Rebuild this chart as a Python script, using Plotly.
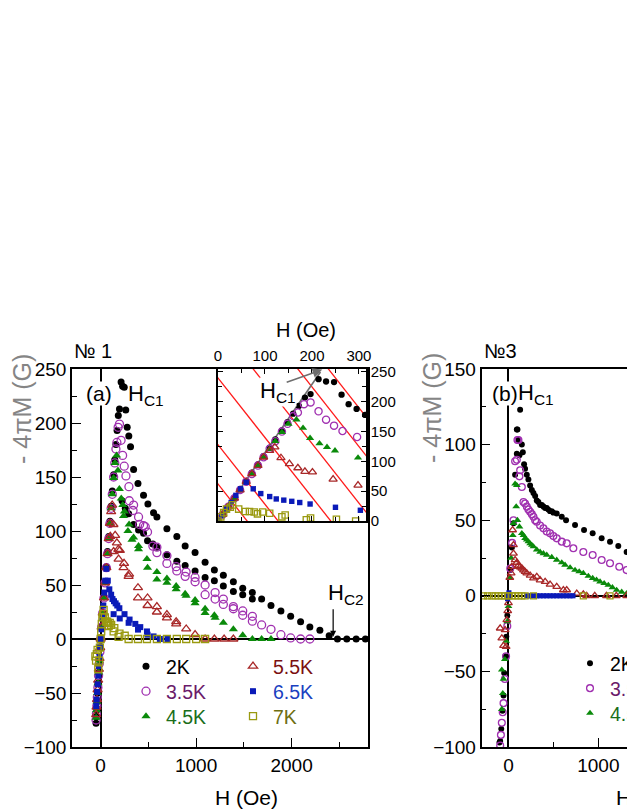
import plotly.graph_objects as go

W, H = 627, 811

# ---------------- panel (a): sample No 1, main curves ----------------
h_a_2k = [-48, -45, -42, -38, -33, -27, -20, -12, -5, 0,
          10, 22, 35, 47, 60, 72, 85, 97, 110, 122, 136, 148, 160, 172, 185, 197, 214,
          230, 247, 263, 278, 295, 313, 345, 391, 449, 495, 554, 589, 694, 798, 885, 989,
          1094, 1191, 1285, 1390, 1488, 1589, 1686, 1784, 1888, 1990, 2094, 2191, 2296, 2393,
          2480, 2578, 2676, 2773]
m_a_2k = [-78, -72, -66, -58, -50, -41, -31, -19, -8, 0,
          11, 25, 39, 53, 67, 81, 95, 109, 123, 137, 152, 166, 180, 193, 207, 213, 238,
          234, 233, 212, 196, 188, 178, 157, 144, 133, 125, 117, 113, 102, 95, 86, 80,
          71, 64, 59, 53, 47, 43, 37, 31, 26, 21, 16, 11, 8, 3,
          0, 0, 0, 0]
h_a_2k_ret = [224, 258, 293, 345, 397, 449, 491, 547, 589, 694, 798, 885, 989, 1094, 1191, 1285,
              1390, 1488, 1589]
m_a_2k_ret = [128, 121, 116, 106, 101, 98, 91, 88, 85, 78, 72, 68, 63, 57, 54, 49, 44, 41, 37]

h_a_35k = [-48, -44, -40, -35, -29, -22, -15, -8, 0,
           10, 22, 35, 47, 60, 72, 85, 97, 110, 122, 136, 148, 160, 170, 183, 197,
           214, 230, 247, 265, 296, 345, 397, 449, 491, 589, 694, 791, 895, 989, 1094, 1199,
           1285, 1390, 1488, 1589, 1686, 1784, 1888, 1990, 2094, 2191]
m_a_35k = [-75, -69, -62, -54, -45, -34, -23, -12, 0,
           11, 24, 38, 52, 66, 79, 93, 107, 121, 134, 150, 163, 176, 182, 196, 199,
           184, 170, 160, 151, 141, 124, 113, 105, 99, 85, 77, 67, 62, 57, 50, 43,
           37, 30, 26, 21, 13, 9, 4, 1, 0, 0]
h_a_35k_ret = [300, 339, 408, 467, 547, 589, 694, 798, 885, 989, 1094, 1199, 1285, 1390, 1488, 1589]
m_a_35k_ret = [128, 119, 106, 104, 86, 80, 70, 63, 58, 53, 41, 37, 32, 28, 22, 16.5]

h_a_45k = [-47, -43, -38, -33, -27, -20, -13, -6, 0,
           10, 22, 35, 47, 60, 72, 85, 97, 110, 122, 136, 150, 167,
           181, 196, 216, 232, 249, 298, 345, 397, 485, 589, 694, 791, 885, 989, 1094, 1191,
           1285, 1390, 1488, 1589, 1686, 1784]
m_a_45k = [-73, -66, -58, -50, -41, -31, -20, -9, 0,
           11, 24, 38, 52, 66, 79, 93, 107, 121, 134, 149, 163, 170,
           156, 139, 130, 124, 118, 106, 94, 86, 74, 62, 56, 49, 42, 36, 28, 22,
           15, 9, 3.5, 0, 0, 0]
h_a_45k_ret = [240, 286, 328, 397, 491, 589, 694, 791, 895, 989, 1094, 1199]
m_a_45k_ret = [114, 100, 92, 83, 66, 55, 52, 46, 40, 33, 24, 19.6]

h_a_55k = [-47, -43, -38, -32, -26, -19, -12, -5, 0,
           10, 22, 35, 47, 60, 72, 85, 97, 110, 121,
           134, 152, 170, 185, 201, 245, 298, 391, 491, 589, 694, 791, 896, 989, 1094, 1191,
           1293, 1390]
m_a_55k = [-70, -63, -56, -47, -38, -28, -18, -8, 0,
           11, 24, 38, 52, 66, 79, 93, 107, 118, 124,
           106, 96, 89, 83, 82, 70, 60, 47.5, 38, 30, 22.6, 16, 9.3, 4, 0, 0,
           0, 0]
h_a_55k_ret = [101, 136, 188, 240, 293, 391, 491, 589, 694, 791]
m_a_55k_ret = [95, 81, 74, 66, 58, 38, 31, 25, 19.6, 14]

h_a_65k = [-46, -42, -37, -31, -25, -18, -11, -5, 0,
           8, 18, 28, 38, 48, 60,
           75, 91, 110, 124, 140, 157, 174, 196, 250, 303, 363, 415, 485, 554, 620, 700]
m_a_65k = [-62, -56, -49, -42, -34, -25, -16, -7, 0,
           9, 20, 31, 43, 54, 65,
           54, 46, 41, 37, 35, 33, 31, 28.5, 23, 18, 14, 11, 7, 2.4, 0, 0]
h_a_65k_ret = [136, 200, 293, 391, 491]
m_a_65k_ret = [23, 19, 15, 8.7, 4]

h_a_7k = [-55, -48, -40, -32, -25, -15, -8, 0,
          6, 12, 18, 26, 31,
          44, 58, 67, 77, 84, 95, 110, 136, 143, 188, 197, 252,
          293, 391, 485, 589, 694, 798, 896, 1000, 1094]
m_a_7k = [-16, -20, -14, -10, -28, -20, -8, 0,
          7, 14, 20, 23, 27,
          20, 16, 16, 15, 12, 15, 13, 7, 10, 2, 5, 3,
          0, 0, 0, 0, 0, 0, 0, 0, 0]

# inset guide lines: x-intercepts of the red lines and their slope, Meissner line end
red_h0 = [62, 128, 240, 330, 425, 490]
red_slope = 1.0
meissner_h = [0, 218]
meissner_m = [0, 250]

# ---------------- panel (b): sample No 3 ----------------
h_b_2k = [-100, -92, -80, -66, -55, -48, -36, -24, -12, 0,
          20, 38, 56, 74, 93, 100, 111, 122, 130,
          93, 149, 160, 174, 185, 204, 222, 241, 260, 278, 297, 315, 333, 352, 371, 389, 408,
          426, 444, 463, 482, 500, 537, 593, 641, 741, 841, 937, 1037, 1130, 1222, 1315]
m_b_2k = [-97, -96, -88, -76, -66, -51, -40, -27, -13, 0,
          17, 32, 48, 80, 110, 110, 103, 93, 123,
          94, 100, 95, 87, 84, 80, 77, 73, 70, 68, 66, 63, 62, 60, 60, 59, 58,
          58, 57, 56, 56, 55, 54.5, 52.3, 50, 46.8, 43.5, 41.3, 38, 35.8, 33, 29]

h_b_35k = [-92, -84, -74, -64, -55, -40, -26, -13, 0,
           20, 40, 56, 74, 93, 100, 111,
           122, 130, 149, 167, 185, 204, 222, 241, 260, 278, 297, 315, 352, 389, 426, 463, 500,
           537, 593, 648, 722, 833, 937, 1037, 1130, 1233, 1315]
m_b_35k = [-99, -92, -84, -77, -71, -55, -40, -20, 0,
           18, 35, 50, 89, 90, 103, 103,
           79, 83, 72, 62, 61, 59, 57, 55.6, 54, 52.3, 50, 49, 46.5, 44.6, 42.5, 41.3, 39.5,
           38, 35.8, 34.7, 31.4, 29, 27, 23.7, 21.5, 19.2, 17]

h_b_45k = [-74, -74, -63, -55, -40, -26, -13, 0,
           15, 30, 48, 56, 74, 86, 93, 100, 122, 149, 167, 185, 204, 222, 241, 260, 278, 315,
           352, 389, 426, 482, 537, 593, 630, 686, 741, 787, 833, 889, 937, 980, 1019, 1065,
           1111, 1157, 1204, 1260, 1315]
m_b_45k = [-75, -49, -64.5, -55, -42, -30, -17, -7,
           12, 25, 40, 48, 74, 59, 73, 50, 45.7, 41.3, 40, 38, 37, 35.8, 34.5, 33.5, 32.5, 30.5,
           29, 28, 27, 25.5, 23.7, 22, 20.4, 18.7, 17, 16, 14.9, 13, 11.6, 10.5, 9.3, 8.2,
           7.1, 5.5, 3.8, 2.5, 1.6]

h_b_55k = [-92, -74, -55, -37, -26, -18, -8, 0,
           15, 30, 37, 46, 56, 56, 74, 93, 111, 130, 149, 167, 185, 204, 241, 278, 315, 352,
           408, 463, 537, 611, 648, 760, 833, 870, 960, 1090, 1200, 1315]
m_b_55k = [-21.5, -28, -33, -22.6, -33.7, -16, -10, -4.7,
           12, 15, 19.3, 43.5, 33.6, 28, 23.7, 22, 20, 19, 18.2, 17, 16, 15, 13.5, 11.6, 12.6,
           10.4, 9.3, 7.5, 6, 3.8, 3.8, 1.6, 1, 0, 0, 0, 0, 0]

h_b_65k = [-10, 0, 5, 207, 241, 278, 315, 352, 389, 426, 463, 500, 537, 574, 611, 648, 685, 718]
m_b_65k = [-2, 0, 2, 0, 0, 0, 0, 0, 0, 0, 0, 0, 0, 0, 0, 0, 0, 0]

h_b_7k = [-278, -231, -185, -148, -111, -74, -37, 0, 37, 74, 111, 148, 185, 278, 833, 1130]
m_b_7k = [0, 0, 0, 0, 0, 0, 0, 0, 0, 0, 0, 0, 0, 0, 0, 0]

# ---------------- styles ----------------
styles = {
    "2K": dict(symbol="circle", color="black", size=7, text="black"),
    "3.5K": dict(symbol="circle-open", color="#a030b0", size=8, text="#6a1a6a"),
    "4.5K": dict(symbol="triangle-up", color="#0a8a0a", size=8, text="#1a6e1a"),
    "5.5K": dict(symbol="triangle-up-open", color="#a82828", size=8, text="#7a1010"),
    "6.5K": dict(symbol="square", color="#0a1ab8", size=6, text="#1a40c0"),
    "7K": dict(symbol="square-open", color="#9a9a10", size=7, text="#6e6e10"),
}

fig = go.Figure()


def add_points(x, y, label, xa, ya, scale=1.0, legend=None):
    st = styles[label]
    is_open = st["symbol"].endswith("open")
    fig.add_trace(go.Scatter(
        x=x, y=y, mode="markers", xaxis=xa, yaxis=ya,
        name='<span style="color:%s">%s</span>' % (st["text"], label),
        showlegend=legend is not None,
        legend=legend if legend else "legend",
        marker=dict(symbol=st["symbol"], size=st["size"] * scale, color=st["color"],
                    line=dict(width=1.3 if is_open else 0, color=st["color"])),
        hoverinfo="skip",
    ))


# inset red lines and Meissner line
for h0 in red_h0:
    fig.add_trace(go.Scatter(
        x=[h0 - 300 / red_slope, h0 + 100], y=[300, -100 * red_slope],
        mode="lines", line=dict(color="#ff1a1a", width=1.3),
        xaxis="x2", yaxis="y2", showlegend=False, hoverinfo="skip"))
fig.add_trace(go.Scatter(x=meissner_h, y=meissner_m, mode="lines",
                         line=dict(color="#6e6e6e", width=1.6),
                         xaxis="x2", yaxis="y2", showlegend=False, hoverinfo="skip"))

# one legend per entry so rows can sit as in the original
panel_a = [
    ("2K", h_a_2k, m_a_2k, h_a_2k_ret, m_a_2k_ret, "legend"),
    ("3.5K", h_a_35k, m_a_35k, h_a_35k_ret, m_a_35k_ret, "legend2"),
    ("4.5K", h_a_45k, m_a_45k, h_a_45k_ret, m_a_45k_ret, "legend3"),
    ("5.5K", h_a_55k, m_a_55k, h_a_55k_ret, m_a_55k_ret, "legend4"),
    ("6.5K", h_a_65k, m_a_65k, h_a_65k_ret, m_a_65k_ret, "legend5"),
    ("7K", h_a_7k, m_a_7k, [], [], "legend6"),
]
for label, h, m, hr, mr, lg in panel_a:
    add_points(h, m, label, "x", "y", legend=lg)
    if hr:
        add_points(hr, mr, label, "x", "y")
    add_points(h, m, label, "x2", "y2", scale=0.9)

panel_b = [
    ("2K", h_b_2k, m_b_2k, "legend7"),
    ("3.5K", h_b_35k, m_b_35k, "legend8"),
    ("4.5K", h_b_45k, m_b_45k, "legend9"),
    ("5.5K", h_b_55k, m_b_55k, None),
    ("6.5K", h_b_65k, m_b_65k, None),
    ("7K", h_b_7k, m_b_7k, None),
]
for label, h, m, lg in panel_b:
    add_points(h, m, label, "x3", "y3", scale=0.85, legend=lg)

# ---------------- axes ----------------
axis_common = dict(showline=True, linecolor="black", linewidth=1.5, showgrid=False,
                   ticks="inside", tickcolor="black", tickwidth=1.3, ticklen=9)
top, bottom = 1 - 369 / H, 1 - 747 / H

fig.update_layout(
    width=W, height=H,
    margin=dict(l=0, r=0, t=0, b=0, autoexpand=False),
    paper_bgcolor="white", plot_bgcolor="white",
    font=dict(family="Arial, Liberation Sans, sans-serif", size=19, color="black"),
    xaxis=dict(axis_common, domain=[72 / W, 368 / W], range=[-300, 2800], anchor="y",
               mirror=True, dtick=1000, tick0=0,
               minor=dict(dtick=500, ticks="inside", ticklen=5, tickcolor="black"),
               zeroline=True, zerolinecolor="black", zerolinewidth=1.5),
    yaxis=dict(axis_common, domain=[bottom, top], range=[-100, 250], anchor="x",
               mirror=True, dtick=50,
               minor=dict(dtick=25, ticks="inside", ticklen=5, tickcolor="black"),
               zeroline=True, zerolinecolor="black", zerolinewidth=1.5),
    xaxis2=dict(axis_common, domain=[218 / W, 366 / W], range=[0, 315], anchor="y2",
                side="top", mirror="ticks", dtick=100, ticklen=5,
                tickfont=dict(size=15),
                minor=dict(dtick=50, ticks="inside", ticklen=4, tickcolor="black"),
                zeroline=False),
    yaxis2=dict(axis_common, domain=[1 - 521 / H, top], range=[0, 255], anchor="x2",
                side="right", mirror="ticks", dtick=50, ticklen=5,
                tickfont=dict(size=15),
                minor=dict(dtick=25, ticks="inside", ticklen=4, tickcolor="black"),
                zeroline=False),
    xaxis3=dict(axis_common, domain=[481.5 / W, 1.0], range=[-300, 1319], anchor="y3",
                mirror=True, dtick=1000, tick0=0,
                minor=dict(dtick=500, ticks="inside", ticklen=5, tickcolor="black"),
                zeroline=True, zerolinecolor="black", zerolinewidth=1.5),
    yaxis3=dict(axis_common, domain=[bottom, top], range=[-100, 150], anchor="x3",
                mirror=False, dtick=50,
                minor=dict(dtick=25, ticks="inside", ticklen=5, tickcolor="black"),
                zeroline=True, zerolinecolor="black", zerolinewidth=1.5),
)

# legend rows: (left edge px, row centre px)
legend_pos = {
    "legend": (126, 663), "legend2": (126, 688), "legend3": (126, 713),
    "legend4": (233, 663), "legend5": (233, 688), "legend6": (233, 713),
    "legend7": (570, 660), "legend8": (570, 685), "legend9": (570, 710),
}
fig.update_layout({
    k: dict(bgcolor="rgba(0,0,0,0)", font=dict(size=19.5), yanchor="top", xanchor="left",
            itemwidth=30, x=lx / W, y=1 - (ly - 16) / H)
    for k, (lx, ly) in legend_pos.items()
})


def px(x, y):
    return x / W, 1 - y / H


gray = "#858585"
ann = []


def text(x, y, s, size=20, color="black", xanchor="center", angle=0, bg=None):
    ax_, ay_ = px(x, y)
    ann.append(dict(x=ax_, y=ay_, xref="paper", yref="paper", text=s, showarrow=False,
                    xanchor=xanchor, yanchor="middle", textangle=angle,
                    font=dict(size=size, color=color), bgcolor=bg, borderpad=0))


text(73, 351, "№ 1", xanchor="left")
text(483, 351, "№3", xanchor="left")
text(22, 409, "- 4πM (G)", size=25, color=gray, angle=-90)
text(432, 408, "- 4πM (G)", size=25, color=gray, angle=-90)
text(246, 797, "H (Oe)", size=21)
text(615, 797, "H (Oe)", size=21, xanchor="left")
text(306, 330, "H (Oe)", size=20)
text(99.5, 394, "(a)", size=21, bg="white")
text(127, 395, "H<sub>C1</sub>", size=22, xanchor="left")
text(505, 393, "(b)", size=21, bg="white")
text(517, 394, "H<sub>C1</sub>", size=22, xanchor="left")
text(327, 594, "H<sub>C2</sub>", size=22, xanchor="left")
text(259, 392, "H<sub>C1</sub>", size=22, xanchor="left", bg="white")

# arrows
ann.append(dict(x=2435, y=2, xref="x", yref="y", ax=0, ay=-29, text="", showarrow=True,
                arrowhead=2, arrowsize=1, arrowwidth=1.2, arrowcolor="black"))
ann.append(dict(x=222, y=254, xref="x2", yref="y2", ax=143, ay=232, axref="x2", ayref="y2",
                text="", showarrow=True, arrowhead=2, arrowsize=1.3, arrowwidth=1.5,
                arrowcolor="#6e6e6e"))
fig.update_layout(annotations=ann)

fig.write_html("out.html", config={"displayModeBar": False},
               post_script="document.body.style.margin='0';")
